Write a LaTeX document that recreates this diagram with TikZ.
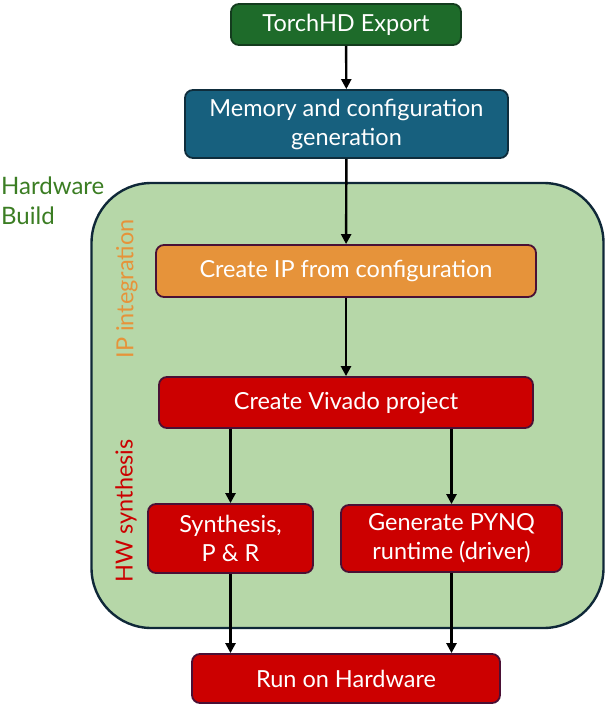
\documentclass[tikz,border=0pt]{standalone}
\usepackage{fontspec}
\setmainfont{Lato}
\usetikzlibrary{arrows.meta}
\definecolor{tgreen}{HTML}{1E6B2A}
\definecolor{tgreenb}{HTML}{143C1E}
\definecolor{mblue}{HTML}{17607E}
\definecolor{mblueb}{HTML}{0F2D3C}
\definecolor{iporange}{HTML}{E6933A}
\definecolor{boxb}{HTML}{4A1035}
\definecolor{hwred}{HTML}{CC0000}
\definecolor{regfill}{HTML}{B6D7A8}
\definecolor{regb}{HTML}{0F2838}
\definecolor{hbtext}{HTML}{3B7D23}
\tikzset{
  box/.style={draw=boxb, line width=1.8pt, rounded corners=8pt, text=white, align=center, inner sep=0pt, font=\fontsize{23.5}{29}\selectfont},
  arr/.style={-{Triangle[length=10pt,width=10pt]}, line width=2.4pt, black},
}
\begin{document}
\begin{tikzpicture}[x=1pt,y=-1pt]
\useasboundingbox (0,0) rectangle (606,708);
% region
\node[draw=regb, line width=2.4pt, fill=regfill, rounded corners=60pt, minimum width=512pt, minimum height=445pt, inner sep=0pt] (hw) at (347.5,405.5) {};
\node[text=hbtext, align=left, anchor=north west, inner sep=0pt, font=\fontsize{24}{30}\selectfont] (hbl) at (1,177) {Hardware\\Build};
\node[text=iporange, rotate=90, inner sep=0pt, font=\fontsize{23.5}{24}\selectfont] (ipl) at (127,289) {IP integration};
\node[text=hwred, rotate=90, inner sep=0pt, font=\fontsize{23.5}{24}\selectfont] (hwl) at (126,511) {HW synthesis};
% boxes
\node[box, fill=tgreen, draw=tgreenb, minimum width=230pt, minimum height=41pt] (exp) at (346,24.5) {TorchHD Export};
\node[box, fill=mblue, draw=mblueb, minimum width=323pt, minimum height=68pt] (mem) at (346.5,124) {Memory and configuration\\generation};
\node[box, fill=iporange, minimum width=380pt, minimum height=52pt] (ip) at (346,271) {Create IP from configuration};
\node[box, fill=hwred, minimum width=374pt, minimum height=51pt] (viv) at (346,402.5) {Create Vivado project};
\node[box, fill=hwred, minimum width=165pt, minimum height=69pt] (syn) at (230.5,538.5) {Synthesis,\\P \& R};
\node[box, fill=hwred, minimum width=221pt, minimum height=67pt] (pynq) at (451.5,538.5) {Generate PYNQ\\runtime (driver)};
\node[box, fill=hwred, minimum width=308pt, minimum height=49pt] (run) at (346,678.5) {Run on Hardware};
% arrows
\draw[arr] (exp) -- (mem);
\draw[arr] (mem) -- (ip);
\draw[arr] (ip) -- (viv);
\draw[arr] (viv.south -| syn.north) -- (syn.north);
\draw[arr] (viv.south -| pynq.north) -- (pynq.north);
\draw[arr] (syn.south) -- (syn.south |- run.north);
\draw[arr] (pynq.south) -- (pynq.south |- run.north);
\end{tikzpicture}
\end{document}
